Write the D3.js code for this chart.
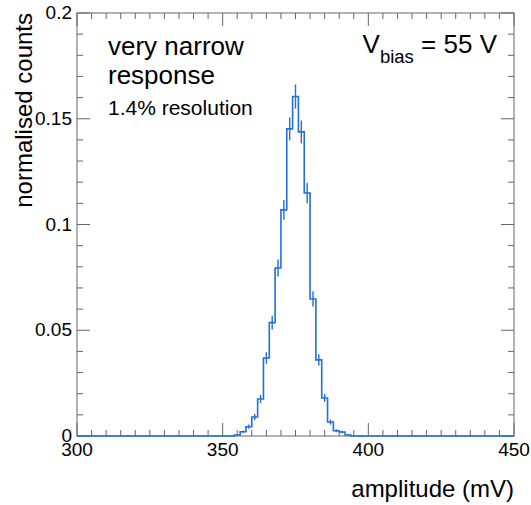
<!DOCTYPE html>
<html>
<head>
<meta charset="utf-8">
<script src="https://cdn.jsdelivr.net/npm/d3@7"></script>
<style>
  body { margin: 0; background: #fff; }
  text { font-family: "Liberation Sans", Arial, Helvetica, sans-serif; fill: #000; }
</style>
</head>
<body>
<div id="chart"></div>
<script>
// histogram, 2 mV bins, lower edges
const binLow = [354, 356, 358, 360, 362, 364, 366, 368, 370, 372, 374, 376, 378, 380, 382, 384, 386, 388, 390, 392]
const counts = [0.0005, 0.002, 0.0044, 0.009, 0.0175, 0.0369, 0.0536, 0.0794, 0.1069, 0.1452,
    0.1605, 0.1438, 0.1149, 0.0648, 0.036, 0.018, 0.0066, 0.0025, 0.0019, 0.0005]
const errors = [0.0003, 0.0006, 0.001, 0.0014, 0.0019, 0.0027, 0.0033, 0.004, 0.0047, 0.0054,
    0.0057, 0.0054, 0.0048, 0.0036, 0.0027, 0.0019, 0.0012, 0.0007, 0.0006, 0.0003]
const binWidth = 2
const xTicks = [300, 350, 400, 450]
const yTicks = [0, 0.05, 0.1, 0.15, 0.2]

const width = 531, height = 505
const margin = { top: 13, right: 17, bottom: 69, left: 77 }
const blue = "#1f6fe0"
const axisCol = "#666"

const svg = d3.select("#chart").append("svg")
    .attr("width", width)
    .attr("height", height)

const x = d3.scaleLinear().domain([300, 450]).range([margin.left, width - margin.right])
const y = d3.scaleLinear().domain([0, 0.2]).range([height - margin.bottom, margin.top])

// frame
svg.append("rect")
    .attr("x", x(300)).attr("y", y(0.2))
    .attr("width", x(450) - x(300)).attr("height", y(0) - y(0.2))
    .attr("fill", "none").attr("stroke", axisCol).attr("stroke-width", 1)

// ticks on all four sides, pointing in
const xMinor = d3.range(300, 450.1, 5)
const yMinor = d3.range(0, 0.2001, 0.01)

const tickG = svg.append("g").attr("stroke", axisCol).attr("stroke-width", 1)
xMinor.forEach(function (v) {
    const len = Math.abs(v % 50) < 1e-6 ? 13 : 6
    tickG.append("line").attr("x1", x(v)).attr("x2", x(v)).attr("y1", y(0)).attr("y2", y(0) - len)
    tickG.append("line").attr("x1", x(v)).attr("x2", x(v)).attr("y1", y(0.2)).attr("y2", y(0.2) + len)
})
yMinor.forEach(function (v, i) {
    const len = i % 5 == 0 ? 13 : 6
    tickG.append("line").attr("y1", y(v)).attr("y2", y(v)).attr("x1", x(300)).attr("x2", x(300) + len)
    tickG.append("line").attr("y1", y(v)).attr("y2", y(v)).attr("x1", x(450)).attr("x2", x(450) - len)
})

// tick labels
svg.selectAll("xlab")
    .data(xTicks)
    .enter()
    .append("text")
    .attr("x", d => x(d))
    .attr("y", y(0) + 20)
    .attr("text-anchor", "middle")
    .attr("font-size", "19px")
    .text(d => d)

svg.selectAll("ylab")
    .data(yTicks)
    .enter()
    .append("text")
    .attr("x", x(300) - 5)
    .attr("y", d => y(d) + 6)
    .attr("text-anchor", "end")
    .attr("font-size", "19px")
    .text(d => d3.format("~g")(d))

// axis titles
svg.append("text")
    .attr("x", x(450))
    .attr("y", 497)
    .attr("text-anchor", "end")
    .attr("font-size", "24px")
    .text("amplitude (mV)")

svg.append("text")
    .attr("transform", `translate(32, ${margin.top}) rotate(-90)`)
    .attr("text-anchor", "end")
    .attr("font-size", "24px")
    .text("normalised counts")

// histogram step line, empty from 300 up to first bin and after last bin up to 450
const pts = [[300, 0]]
binLow.forEach((b, i) => pts.push([b, counts[i]]))
pts.push([binLow[binLow.length - 1] + binWidth, 0])
pts.push([450, 0])

const line = d3.line()
    .x(d => x(d[0]))
    .y(d => y(d[1]))
    .curve(d3.curveStepAfter)

svg.append("path")
    .datum(pts)
    .attr("d", line)
    .attr("fill", "none")
    .attr("stroke", blue)
    .attr("stroke-width", 1.6)

// error bars at bin centres
svg.append("g")
    .selectAll("line")
    .data(binLow)
    .enter()
    .append("line")
    .attr("x1", d => x(d + binWidth / 2))
    .attr("x2", d => x(d + binWidth / 2))
    .attr("y1", (d, i) => y(counts[i] - errors[i]))
    .attr("y2", (d, i) => y(counts[i] + errors[i]))
    .attr("stroke", blue)
    .attr("stroke-width", 1.4)

// annotations
svg.append("text").attr("x", 108).attr("y", 55).attr("font-size", "26px").text("very narrow")
svg.append("text").attr("x", 108).attr("y", 84).attr("font-size", "26px").text("response")
svg.append("text").attr("x", 108).attr("y", 115).attr("font-size", "21px").text("1.4% resolution")

const vb = svg.append("text").attr("x", 497).attr("y", 53).attr("text-anchor", "end").attr("font-size", "26px")
vb.append("tspan").text("V")
vb.append("tspan").attr("font-size", "18.5px").attr("dy", 10).text("bias")
vb.append("tspan").attr("dy", -10).text(" = 55 V")
</script>
</body>
</html>
